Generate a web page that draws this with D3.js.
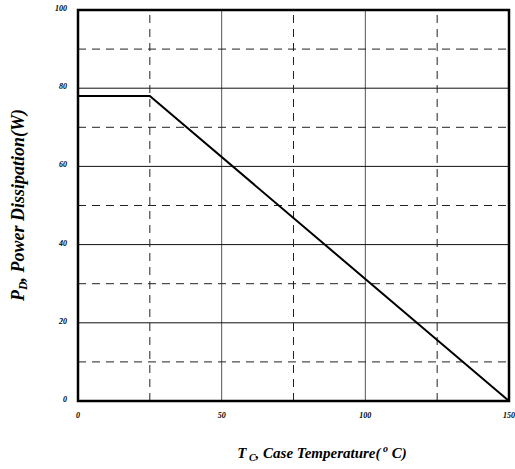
<!DOCTYPE html>
<html>
<head>
<meta charset="utf-8">
<script src="https://cdn.jsdelivr.net/npm/d3@7"></script>
<style>
  body { margin: 0; background: #fff; }
  text { font-family: "Liberation Serif", "Times New Roman", serif; font-weight: bold; font-style: italic; }
</style>
</head>
<body>
<div class="container"></div>
<script>
var width = 515;
var height = 469;

// derating curve: case temp (C) vs power dissipation (W)
var tempC = [0, 25, 150];
var powerW = [78, 78, 0];

var xTicks = [0, 50, 100, 150];
var yTicks = [0, 20, 40, 60, 80, 100];
var xDashed = [25, 75, 125];
var yDashed = [10, 30, 50, 70, 90];

var margin = {left: 78, top: 10, right: 6, bottom: 68};

var x = d3.scaleLinear().domain([0, 150]).range([margin.left, width - margin.right]);
var y = d3.scaleLinear().domain([0, 100]).range([height - margin.bottom, margin.top]);

var svg = d3.select(".container").append("svg")
    .attr("width", width)
    .attr("height", height);

// solid grid lines
svg.selectAll(".gx").data(xTicks.slice(1, -1))
  .enter().append("line")
  .attr("x1", function (d){return x(d);})
  .attr("x2", function (d){return x(d);})
  .attr("y1", y(0)).attr("y2", y(100))
  .attr("stroke", "#555").attr("stroke-width", 1);

svg.selectAll(".gy").data(yTicks.slice(1, -1))
  .enter().append("line")
  .attr("y1", function (d){return y(d);})
  .attr("y2", function (d){return y(d);})
  .attr("x1", x(0)).attr("x2", x(150))
  .attr("stroke", "#111").attr("stroke-width", 1);

// dashed grid lines
svg.selectAll(".dx").data(xDashed)
  .enter().append("line")
  .attr("x1", function (d){return x(d);})
  .attr("x2", function (d){return x(d);})
  .attr("y1", y(0)).attr("y2", y(100))
  .attr("stroke", "#222").attr("stroke-width", 1)
  .attr("stroke-dasharray", "8,6");

svg.selectAll(".dy").data(yDashed)
  .enter().append("line")
  .attr("y1", function (d){return y(d);})
  .attr("y2", function (d){return y(d);})
  .attr("x1", x(0)).attr("x2", x(150))
  .attr("stroke", "#222").attr("stroke-width", 1)
  .attr("stroke-dasharray", "8,6");

// frame
svg.append("rect")
  .attr("x", x(0)).attr("y", y(100))
  .attr("width", x(150) - x(0))
  .attr("height", y(0) - y(100))
  .attr("fill", "none")
  .attr("stroke", "#000").attr("stroke-width", 2.5);

// curve
var line = d3.line()
  .x(function (d, i){return x(tempC[i]);})
  .y(function (d, i){return y(powerW[i]);});

svg.append("path")
  .attr("d", line(tempC))
  .attr("fill", "none")
  .attr("stroke", "#000")
  .attr("stroke-width", 2);

// tick labels
svg.selectAll(".xl").data(xTicks)
  .enter().append("text")
  .attr("x", function (d){return x(d);})
  .attr("y", y(0) + 17)
  .attr("text-anchor", "middle")
  .attr("font-size", 8)
  .text(function (d){return d;});

svg.selectAll(".yl").data(yTicks)
  .enter().append("text")
  .attr("x", x(0) - 11)
  .attr("y", function (d){return y(d) + 1;})
  .attr("text-anchor", "end")
  .attr("font-size", 8)
  .text(function (d){return d;});

// axis titles
var xt = svg.append("text")
  .attr("x", 322)
  .attr("y", 458)
  .attr("text-anchor", "middle")
  .attr("font-size", 15);
xt.append("tspan").text("T");
xt.append("tspan").attr("font-size", 10).attr("dy", 3).text(" C");
xt.append("tspan").attr("dy", -3).text(", Case Temperature(");
xt.append("tspan").attr("font-size", 10).attr("dy", -6).text(" o");
xt.append("tspan").attr("dy", 6).text(" C)");

var yt = svg.append("text")
  .attr("transform", "translate(24,205) rotate(-90)")
  .attr("text-anchor", "middle")
  .attr("font-size", 18);
yt.append("tspan").text("P");
yt.append("tspan").attr("font-size", 12).attr("dy", 3).text("D");
yt.append("tspan").attr("dy", -3).text(", Power Dissipation(W)");
</script>
</body>
</html>
